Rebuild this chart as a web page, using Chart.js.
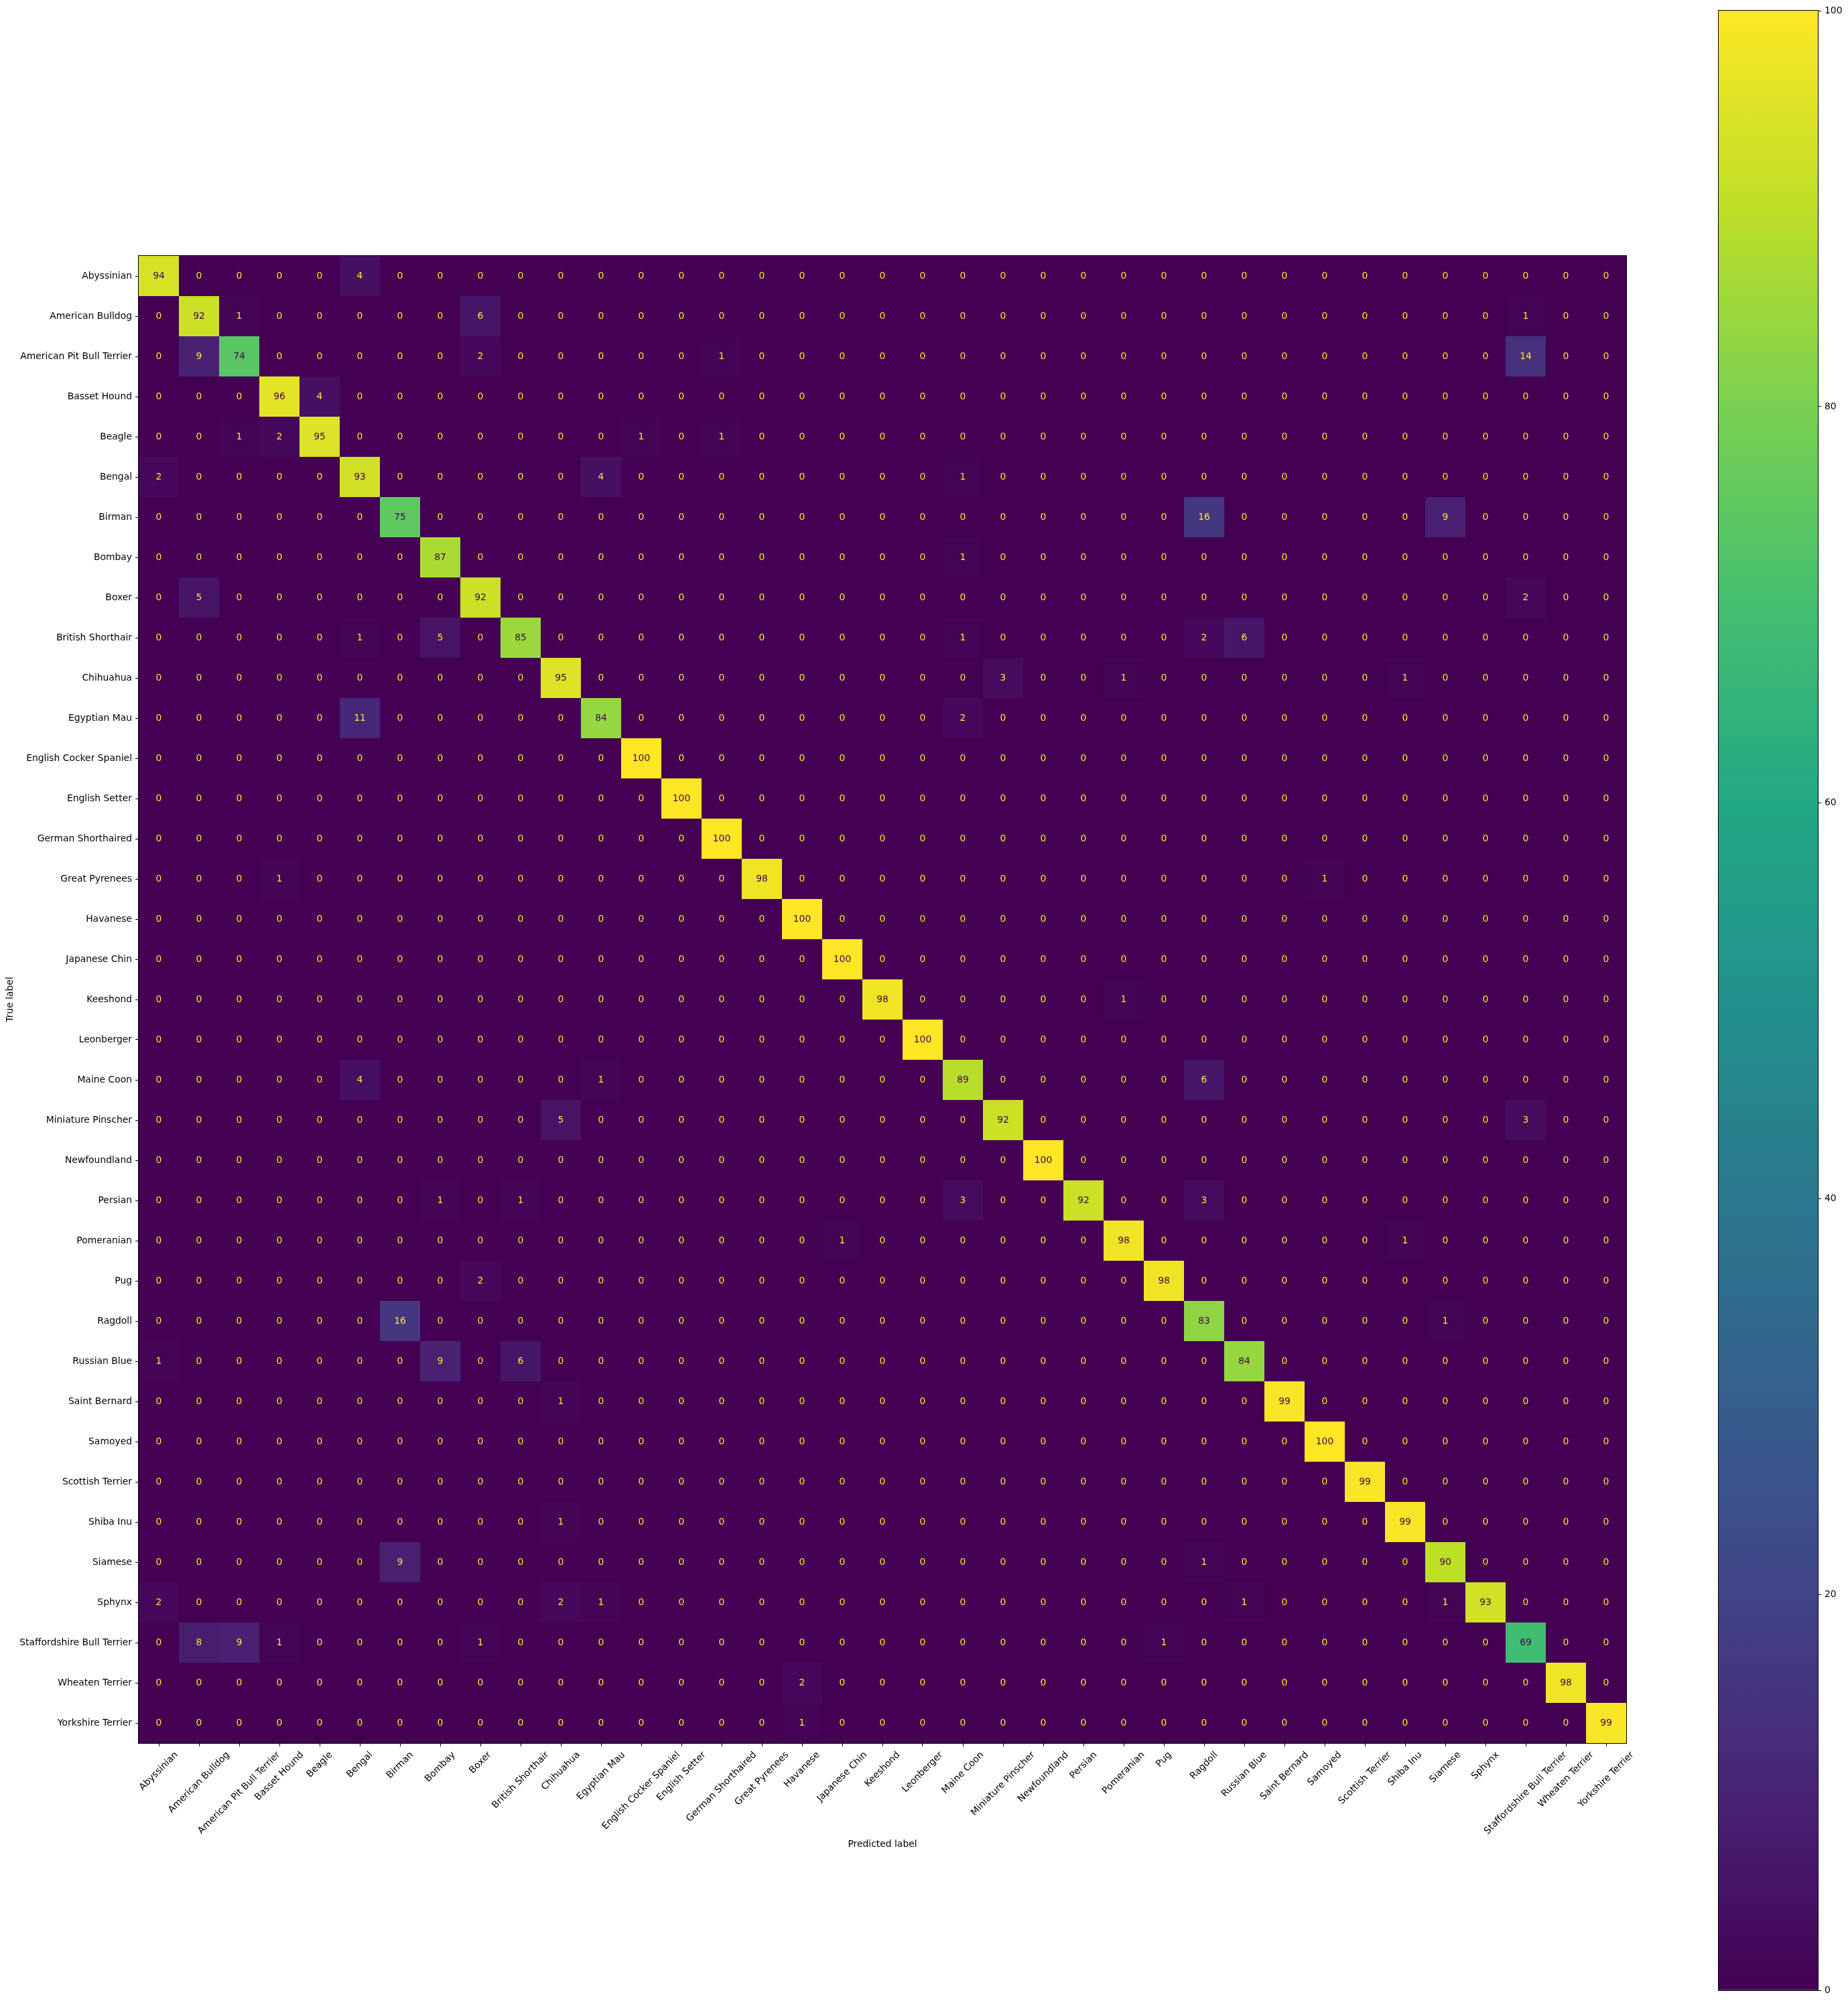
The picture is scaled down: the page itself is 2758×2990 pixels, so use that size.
<!DOCTYPE html>
<html>
<head>
<meta charset="utf-8">
<script src="https://cdn.jsdelivr.net/npm/chart.js@4.4.1/dist/chart.umd.min.js"></script>
<style>
  html, body { margin: 0; padding: 0; background: #fff; }
  #wrap { position: relative; width: 2758px; height: 2990px; }
  #matrix { position: absolute; left: 0; top: 0; }
  #colorbar { position: absolute; left: 2540px; top: 0; }
</style>
</head>
<body>
<div id="wrap">
  <canvas id="matrix" width="2758" height="2990"></canvas>
  <canvas id="colorbar" width="218" height="2990"></canvas>
</div>
<script>
const classNames = [
	'Abyssinian', 'American Bulldog', 'American Pit Bull Terrier', 'Basset Hound', 'Beagle',
	'Bengal', 'Birman', 'Bombay', 'Boxer', 'British Shorthair', 'Chihuahua', 'Egyptian Mau',
	'English Cocker Spaniel', 'English Setter', 'German Shorthaired', 'Great Pyrenees', 'Havanese',
	'Japanese Chin', 'Keeshond', 'Leonberger', 'Maine Coon', 'Miniature Pinscher', 'Newfoundland',
	'Persian', 'Pomeranian', 'Pug', 'Ragdoll', 'Russian Blue', 'Saint Bernard', 'Samoyed',
	'Scottish Terrier', 'Shiba Inu', 'Siamese', 'Sphynx', 'Staffordshire Bull Terrier',
	'Wheaten Terrier', 'Yorkshire Terrier',
];

// rows = true label, columns = predicted label
const confusion = [
	[94,0,0,0,0,4,0,0,0,0,   0,0,0,0,0,0,0,0,0,0,    0,0,0,0,0,0,0,0,0,0,    0,0,0,0,0,0,0],
	[0,92,1,0,0,0,0,0,6,0,   0,0,0,0,0,0,0,0,0,0,    0,0,0,0,0,0,0,0,0,0,    0,0,0,0,1,0,0],
	[0,9,74,0,0,0,0,0,2,0,   0,0,0,0,1,0,0,0,0,0,    0,0,0,0,0,0,0,0,0,0,    0,0,0,0,14,0,0],
	[0,0,0,96,4,0,0,0,0,0,   0,0,0,0,0,0,0,0,0,0,    0,0,0,0,0,0,0,0,0,0,    0,0,0,0,0,0,0],
	[0,0,1,2,95,0,0,0,0,0,   0,0,1,0,1,0,0,0,0,0,    0,0,0,0,0,0,0,0,0,0,    0,0,0,0,0,0,0],
	[2,0,0,0,0,93,0,0,0,0,   0,4,0,0,0,0,0,0,0,0,    1,0,0,0,0,0,0,0,0,0,    0,0,0,0,0,0,0],
	[0,0,0,0,0,0,75,0,0,0,   0,0,0,0,0,0,0,0,0,0,    0,0,0,0,0,0,16,0,0,0,   0,0,9,0,0,0,0],
	[0,0,0,0,0,0,0,87,0,0,   0,0,0,0,0,0,0,0,0,0,    1,0,0,0,0,0,0,0,0,0,    0,0,0,0,0,0,0],
	[0,5,0,0,0,0,0,0,92,0,   0,0,0,0,0,0,0,0,0,0,    0,0,0,0,0,0,0,0,0,0,    0,0,0,0,2,0,0],
	[0,0,0,0,0,1,0,5,0,85,   0,0,0,0,0,0,0,0,0,0,    1,0,0,0,0,0,2,6,0,0,    0,0,0,0,0,0,0],
	[0,0,0,0,0,0,0,0,0,0,    95,0,0,0,0,0,0,0,0,0,   0,3,0,0,1,0,0,0,0,0,    0,1,0,0,0,0,0],
	[0,0,0,0,0,11,0,0,0,0,   0,84,0,0,0,0,0,0,0,0,   2,0,0,0,0,0,0,0,0,0,    0,0,0,0,0,0,0],
	[0,0,0,0,0,0,0,0,0,0,    0,0,100,0,0,0,0,0,0,0,  0,0,0,0,0,0,0,0,0,0,    0,0,0,0,0,0,0],
	[0,0,0,0,0,0,0,0,0,0,    0,0,0,100,0,0,0,0,0,0,  0,0,0,0,0,0,0,0,0,0,    0,0,0,0,0,0,0],
	[0,0,0,0,0,0,0,0,0,0,    0,0,0,0,100,0,0,0,0,0,  0,0,0,0,0,0,0,0,0,0,    0,0,0,0,0,0,0],
	[0,0,0,1,0,0,0,0,0,0,    0,0,0,0,0,98,0,0,0,0,   0,0,0,0,0,0,0,0,0,1,    0,0,0,0,0,0,0],
	[0,0,0,0,0,0,0,0,0,0,    0,0,0,0,0,0,100,0,0,0,  0,0,0,0,0,0,0,0,0,0,    0,0,0,0,0,0,0],
	[0,0,0,0,0,0,0,0,0,0,    0,0,0,0,0,0,0,100,0,0,  0,0,0,0,0,0,0,0,0,0,    0,0,0,0,0,0,0],
	[0,0,0,0,0,0,0,0,0,0,    0,0,0,0,0,0,0,0,98,0,   0,0,0,0,1,0,0,0,0,0,    0,0,0,0,0,0,0],
	[0,0,0,0,0,0,0,0,0,0,    0,0,0,0,0,0,0,0,0,100,  0,0,0,0,0,0,0,0,0,0,    0,0,0,0,0,0,0],
	[0,0,0,0,0,4,0,0,0,0,    0,1,0,0,0,0,0,0,0,0,    89,0,0,0,0,0,6,0,0,0,   0,0,0,0,0,0,0],
	[0,0,0,0,0,0,0,0,0,0,    5,0,0,0,0,0,0,0,0,0,    0,92,0,0,0,0,0,0,0,0,   0,0,0,0,3,0,0],
	[0,0,0,0,0,0,0,0,0,0,    0,0,0,0,0,0,0,0,0,0,    0,0,100,0,0,0,0,0,0,0,  0,0,0,0,0,0,0],
	[0,0,0,0,0,0,0,1,0,1,    0,0,0,0,0,0,0,0,0,0,    3,0,0,92,0,0,3,0,0,0,   0,0,0,0,0,0,0],
	[0,0,0,0,0,0,0,0,0,0,    0,0,0,0,0,0,0,1,0,0,    0,0,0,0,98,0,0,0,0,0,   0,1,0,0,0,0,0],
	[0,0,0,0,0,0,0,0,2,0,    0,0,0,0,0,0,0,0,0,0,    0,0,0,0,0,98,0,0,0,0,   0,0,0,0,0,0,0],
	[0,0,0,0,0,0,16,0,0,0,   0,0,0,0,0,0,0,0,0,0,    0,0,0,0,0,0,83,0,0,0,   0,0,1,0,0,0,0],
	[1,0,0,0,0,0,0,9,0,6,    0,0,0,0,0,0,0,0,0,0,    0,0,0,0,0,0,0,84,0,0,   0,0,0,0,0,0,0],
	[0,0,0,0,0,0,0,0,0,0,    1,0,0,0,0,0,0,0,0,0,    0,0,0,0,0,0,0,0,99,0,   0,0,0,0,0,0,0],
	[0,0,0,0,0,0,0,0,0,0,    0,0,0,0,0,0,0,0,0,0,    0,0,0,0,0,0,0,0,0,100,  0,0,0,0,0,0,0],
	[0,0,0,0,0,0,0,0,0,0,    0,0,0,0,0,0,0,0,0,0,    0,0,0,0,0,0,0,0,0,0,    99,0,0,0,0,0,0],
	[0,0,0,0,0,0,0,0,0,0,    1,0,0,0,0,0,0,0,0,0,    0,0,0,0,0,0,0,0,0,0,    0,99,0,0,0,0,0],
	[0,0,0,0,0,0,9,0,0,0,    0,0,0,0,0,0,0,0,0,0,    0,0,0,0,0,0,1,0,0,0,    0,0,90,0,0,0,0],
	[2,0,0,0,0,0,0,0,0,0,    2,1,0,0,0,0,0,0,0,0,    0,0,0,0,0,0,0,1,0,0,    0,0,1,93,0,0,0],
	[0,8,9,1,0,0,0,0,1,0,    0,0,0,0,0,0,0,0,0,0,    0,0,0,0,0,1,0,0,0,0,    0,0,0,0,69,0,0],
	[0,0,0,0,0,0,0,0,0,0,    0,0,0,0,0,0,2,0,0,0,    0,0,0,0,0,0,0,0,0,0,    0,0,0,0,0,98,0],
	[0,0,0,0,0,0,0,0,0,0,    0,0,0,0,0,0,1,0,0,0,    0,0,0,0,0,0,0,0,0,0,    0,0,0,0,0,0,99],
];

const colorMin = 0;
const colorMax = 100;
const colorbarTicks = [0, 20, 40, 60, 80, 100];

// viridis sampled at 0, 0.1, ... 1
const viridisStops = [
	'#440154', '#482475', '#414487', '#355f8d', '#2a788e', '#21918c',
	'#22a884', '#44bf70', '#7ad151', '#bddf26', '#fde725',
];

const fontFamily = '"DejaVu Sans", sans-serif';
const fontSize = 13.9;
const textDark = viridisStops[0];
const textLight = viridisStops[viridisStops.length - 1];

Chart.defaults.font.family = fontFamily;
Chart.defaults.font.size = fontSize;
Chart.defaults.color = '#000';

function hexToRgb( hex ) {
	const n = parseInt( hex.slice( 1 ), 16 );
	return [ ( n >> 16 ) & 255, ( n >> 8 ) & 255, n & 255 ];
}

function viridis( t ) {
	t = Math.min( 1, Math.max( 0, t ) );
	const pos = t * ( viridisStops.length - 1 );
	const i = Math.min( Math.floor( pos ), viridisStops.length - 2 );
	const f = pos - i;
	const a = hexToRgb( viridisStops[ i ] );
	const b = hexToRgb( viridisStops[ i + 1 ] );
	const c = a.map( ( v, k ) => Math.round( v + ( b[ k ] - v ) * f ) );
	return `rgb(${ c[0] }, ${ c[1] }, ${ c[2] })`;
}

const cells = [];
confusion.forEach( ( row, i ) => {
	row.forEach( ( v, j ) => {
		cells.push( { x: classNames[ j ], y: classNames[ i ], v: v } );
	} );
} );

const threshold = ( colorMin + colorMax ) / 2;

const frame = {
	id: 'frame',
	afterDraw( chart ) {
		const { ctx, chartArea: a } = chart;
		ctx.save();
		ctx.strokeStyle = '#000';
		ctx.lineWidth = 1;
		ctx.strokeRect( a.left - 0.5, a.top - 0.5, a.right - a.left + 1, a.bottom - a.top + 1 );
		ctx.restore();
	},
};

const cellText = {
	id: 'cellText',
	afterDatasetsDraw( chart ) {
		const ctx = chart.ctx;
		const meta = chart.getDatasetMeta( 0 );
		ctx.save();
		ctx.font = `${ fontSize }px ${ fontFamily }`;
		ctx.textAlign = 'center';
		ctx.textBaseline = 'middle';
		meta.data.forEach( ( pt, k ) => {
			const v = cells[ k ].v;
			ctx.fillStyle = v < threshold ? textLight : textDark;
			ctx.fillText( String( v ), pt.x, pt.y );
		} );
		ctx.restore();
	},
};

// rotated x tick labels, centred on their tick like matplotlib
const xTickText = {
	id: 'xTickText',
	afterDraw( chart ) {
		const ctx = chart.ctx;
		const xs = chart.scales.x;
		const lineH = fontSize * 1.17;
		ctx.save();
		ctx.font = `${ fontSize }px ${ fontFamily }`;
		ctx.fillStyle = '#000';
		ctx.textAlign = 'center';
		ctx.textBaseline = 'middle';
		classNames.forEach( ( name, i ) => {
			const px = xs.getPixelForTick( i );
			const w = ctx.measureText( name ).width;
			const half = ( w + lineH ) * Math.SQRT1_2 / 2;
			ctx.save();
			ctx.translate( px, xs.top + 9.7 + half );
			ctx.rotate( -Math.PI / 4 );
			ctx.fillText( name, 0, 0 );
			ctx.restore();
		} );
		ctx.restore();
	},
};

const cellRadius = c => {
	const a = c.chart.chartArea;
	if ( ! a ) {
		return 0;
	}
	return ( a.right - a.left ) / classNames.length / Math.SQRT2;
};

const tickGrid = {
	drawOnChartArea: false,
	drawTicks: true,
	tickLength: 5,
	offset: false,
	color: '#000',
	lineWidth: 1,
};

new Chart( document.getElementById( 'matrix' ), {
	type: 'line',
	data: {
		datasets: [ {
			data: cells,
			showLine: false,
			pointStyle: 'rect',
			pointRadius: cellRadius,
			pointHoverRadius: cellRadius,
			pointBorderWidth: 0,
			pointBackgroundColor: c => viridis( ( c.raw.v - colorMin ) / ( colorMax - colorMin ) ),
		} ],
	},
	options: {
		responsive: false,
		animation: false,
		devicePixelRatio: 1,
		events: [],
		layout: { padding: { left: 7, top: 382, right: 331, bottom: 228 } },
		plugins: {
			legend: { display: false },
			tooltip: { enabled: false },
		},
		scales: {
			x: {
				type: 'category',
				labels: classNames,
				offset: true,
				grid: tickGrid,
				border: { display: false },
				ticks: { display: false, autoSkip: false },
				title: { display: true, text: 'Predicted label', padding: 0, color: '#000' },
				afterFit: s => { s.height = 160; },
			},
			y: {
				type: 'category',
				labels: classNames,
				offset: true,
				grid: tickGrid,
				border: { display: false },
				ticks: { autoSkip: false, padding: 5, color: '#000' },
				title: { display: true, text: 'True label', padding: 0, color: '#000' },
				afterFit: s => { s.width = 200; },
			},
		},
	},
	plugins: [ cellText, xTickText, frame ],
} );

new Chart( document.getElementById( 'colorbar' ), {
	type: 'bar',
	data: {
		labels: [ 'scale' ],
		datasets: [ {
			data: [ colorMax ],
			base: colorMin,
			borderWidth: 0,
			barPercentage: 1,
			categoryPercentage: 1,
			backgroundColor: c => {
				const a = c.chart.chartArea;
				if ( ! a ) {
					return viridisStops[ 0 ];
				}
				const g = c.chart.ctx.createLinearGradient( 0, a.bottom, 0, a.top );
				viridisStops.forEach( ( s, i ) => g.addColorStop( i / ( viridisStops.length - 1 ), s ) );
				return g;
			},
		} ],
	},
	options: {
		responsive: false,
		animation: false,
		devicePixelRatio: 1,
		events: [],
		layout: { padding: { left: 25, top: 16, right: 0, bottom: 19 } },
		plugins: {
			legend: { display: false },
			tooltip: { enabled: false },
		},
		scales: {
			x: { display: false },
			y: {
				position: 'right',
				min: colorMin,
				max: colorMax,
				grid: { drawOnChartArea: false, drawTicks: true, tickLength: 5, color: '#000', lineWidth: 1 },
				border: { display: false },
				ticks: { padding: 5, color: '#000' },
				afterBuildTicks: s => { s.ticks = colorbarTicks.map( v => ( { value: v } ) ); },
				afterFit: s => { s.width = 45; },
			},
		},
	},
	plugins: [ frame ],
} );
</script>
</body>
</html>
